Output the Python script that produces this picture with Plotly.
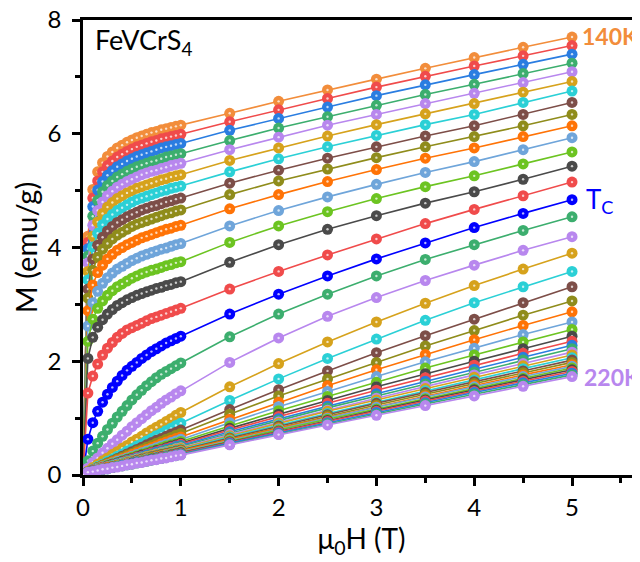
import plotly.graph_objects as go

# magnetic field (T)
field_T = [0, 0.05, 0.10, 0.15, 0.20, 0.25, 0.30, 0.35, 0.40, 0.45, 0.50,
           0.55, 0.60, 0.65, 0.70, 0.75, 0.80, 0.85, 0.90, 0.95, 1.00,
           1.5, 2.0, 2.5, 3.0, 3.5, 4.0, 4.5, 5.0]

temps_K = [140, 142, 144, 146, 148, 150, 152, 154, 156, 158, 160, 162, 164, 166,
           168, 170, 172, 174, 176, 178, 180, 182, 184, 186, 188, 190, 192, 194,
           196, 198, 200, 202, 204, 206, 208, 210, 212, 214, 216, 218, 220]
Tc_K = 168

# magnetization (emu/g) for each isotherm
M_140 = [0, 4.20, 5.02, 5.33, 5.49, 5.60, 5.68, 5.75, 5.80, 5.85, 5.89, 5.93, 5.96, 5.99, 6.02, 6.04, 6.07, 6.09, 6.11, 6.13, 6.15, 6.36, 6.57, 6.77, 6.96, 7.15, 7.34, 7.52, 7.70]
M_142 = [0, 4.09, 4.87, 5.17, 5.33, 5.44, 5.52, 5.59, 5.64, 5.69, 5.73, 5.77, 5.80, 5.83, 5.86, 5.88, 5.91, 5.93, 5.95, 5.97, 5.99, 6.21, 6.42, 6.62, 6.82, 7.01, 7.19, 7.37, 7.55]
M_144 = [0, 3.98, 4.72, 5.01, 5.16, 5.27, 5.35, 5.42, 5.47, 5.52, 5.56, 5.60, 5.63, 5.66, 5.69, 5.72, 5.75, 5.77, 5.79, 5.81, 5.83, 6.06, 6.27, 6.47, 6.67, 6.86, 7.04, 7.22, 7.40]
M_146 = [0, 3.85, 4.55, 4.83, 4.98, 5.09, 5.17, 5.24, 5.29, 5.34, 5.38, 5.42, 5.45, 5.48, 5.51, 5.53, 5.56, 5.59, 5.61, 5.63, 5.65, 5.88, 6.10, 6.30, 6.50, 6.69, 6.87, 7.06, 7.24]
M_148 = [0, 3.73, 4.39, 4.65, 4.80, 4.91, 4.99, 5.06, 5.11, 5.16, 5.20, 5.24, 5.28, 5.31, 5.34, 5.36, 5.39, 5.41, 5.44, 5.46, 5.48, 5.72, 5.94, 6.15, 6.34, 6.53, 6.71, 6.90, 7.09]
M_150 = [0, 3.58, 4.20, 4.45, 4.60, 4.71, 4.79, 4.86, 4.91, 4.96, 5.00, 5.04, 5.07, 5.10, 5.13, 5.16, 5.19, 5.21, 5.24, 5.26, 5.28, 5.53, 5.75, 5.96, 6.16, 6.35, 6.53, 6.73, 6.92]
M_152 = [0, 3.43, 4.01, 4.25, 4.40, 4.50, 4.58, 4.65, 4.70, 4.75, 4.80, 4.84, 4.87, 4.90, 4.93, 4.96, 4.99, 5.01, 5.04, 5.06, 5.08, 5.33, 5.56, 5.77, 5.97, 6.16, 6.34, 6.55, 6.75]
M_154 = [0, 3.27, 3.80, 4.04, 4.18, 4.29, 4.37, 4.44, 4.49, 4.54, 4.58, 4.62, 4.66, 4.69, 4.72, 4.74, 4.77, 4.80, 4.82, 4.85, 4.87, 5.13, 5.36, 5.57, 5.77, 5.96, 6.14, 6.34, 6.55]
M_156 = [0, 3.11, 3.60, 3.83, 3.97, 4.07, 4.15, 4.22, 4.27, 4.32, 4.37, 4.41, 4.44, 4.47, 4.50, 4.53, 4.56, 4.59, 4.61, 4.64, 4.66, 4.93, 5.17, 5.38, 5.58, 5.77, 5.95, 6.14, 6.34]
M_158 = [0, 2.89, 3.34, 3.56, 3.69, 3.80, 3.88, 3.95, 4.00, 4.05, 4.09, 4.13, 4.17, 4.20, 4.23, 4.26, 4.29, 4.32, 4.34, 4.37, 4.39, 4.68, 4.93, 5.16, 5.37, 5.57, 5.75, 5.95, 6.14]
M_160 = [0, 2.62, 3.03, 3.23, 3.37, 3.47, 3.55, 3.62, 3.67, 3.72, 3.77, 3.81, 3.85, 3.88, 3.91, 3.94, 3.97, 3.99, 4.02, 4.05, 4.07, 4.38, 4.65, 4.89, 5.11, 5.32, 5.51, 5.72, 5.93]
M_162 = [0, 2.35, 2.74, 2.93, 3.06, 3.16, 3.24, 3.31, 3.36, 3.41, 3.46, 3.50, 3.54, 3.57, 3.60, 3.62, 3.65, 3.68, 3.70, 3.73, 3.75, 4.09, 4.38, 4.63, 4.86, 5.07, 5.26, 5.47, 5.68]
M_164 = [0, 2.05, 2.42, 2.60, 2.73, 2.83, 2.91, 2.98, 3.03, 3.08, 3.12, 3.16, 3.19, 3.22, 3.25, 3.28, 3.30, 3.33, 3.35, 3.38, 3.40, 3.74, 4.05, 4.32, 4.56, 4.78, 4.98, 5.20, 5.43]
M_166 = [0, 1.44, 1.74, 1.95, 2.11, 2.23, 2.33, 2.42, 2.49, 2.55, 2.59, 2.63, 2.67, 2.71, 2.75, 2.78, 2.81, 2.84, 2.87, 2.90, 2.93, 3.27, 3.58, 3.87, 4.15, 4.42, 4.67, 4.91, 5.15]
M_168 = [0, 0.63, 0.92, 1.12, 1.28, 1.42, 1.54, 1.65, 1.75, 1.84, 1.91, 1.98, 2.05, 2.11, 2.17, 2.22, 2.27, 2.32, 2.36, 2.40, 2.44, 2.83, 3.18, 3.50, 3.80, 4.08, 4.35, 4.60, 4.84]
M_170 = [0, 0.25, 0.42, 0.56, 0.68, 0.80, 0.91, 1.02, 1.12, 1.22, 1.32, 1.41, 1.49, 1.57, 1.64, 1.71, 1.77, 1.82, 1.87, 1.92, 1.97, 2.43, 2.83, 3.18, 3.50, 3.79, 4.05, 4.30, 4.54]
M_172 = [0, 0.12, 0.22, 0.30, 0.39, 0.47, 0.55, 0.62, 0.70, 0.77, 0.85, 0.92, 0.99, 1.06, 1.13, 1.19, 1.26, 1.32, 1.37, 1.43, 1.48, 1.98, 2.41, 2.79, 3.12, 3.42, 3.69, 3.95, 4.19]
M_174 = [0, 0.07, 0.13, 0.19, 0.25, 0.30, 0.36, 0.41, 0.47, 0.52, 0.58, 0.63, 0.68, 0.74, 0.79, 0.84, 0.89, 0.94, 0.99, 1.05, 1.10, 1.55, 1.96, 2.34, 2.69, 3.02, 3.33, 3.62, 3.90]
M_176 = [0, 0.05, 0.10, 0.15, 0.19, 0.24, 0.28, 0.33, 0.37, 0.42, 0.46, 0.51, 0.55, 0.60, 0.64, 0.69, 0.73, 0.78, 0.82, 0.87, 0.91, 1.31, 1.69, 2.05, 2.39, 2.72, 3.03, 3.31, 3.58]
M_178 = [0, 0.05, 0.09, 0.13, 0.17, 0.21, 0.25, 0.29, 0.33, 0.37, 0.41, 0.45, 0.49, 0.53, 0.57, 0.61, 0.64, 0.68, 0.72, 0.75, 0.79, 1.15, 1.50, 1.83, 2.15, 2.45, 2.74, 3.03, 3.31]
M_180 = [0, 0.05, 0.09, 0.13, 0.17, 0.21, 0.24, 0.28, 0.31, 0.35, 0.38, 0.42, 0.45, 0.49, 0.52, 0.56, 0.59, 0.63, 0.66, 0.70, 0.73, 1.07, 1.39, 1.69, 1.98, 2.27, 2.54, 2.81, 3.06]
M_182 = [0, 0.05, 0.09, 0.12, 0.16, 0.19, 0.23, 0.26, 0.29, 0.32, 0.36, 0.39, 0.42, 0.45, 0.48, 0.51, 0.55, 0.58, 0.61, 0.64, 0.67, 0.98, 1.28, 1.57, 1.85, 2.12, 2.38, 2.63, 2.87]
M_184 = [0, 0.05, 0.08, 0.12, 0.15, 0.18, 0.21, 0.24, 0.27, 0.30, 0.33, 0.36, 0.39, 0.42, 0.45, 0.48, 0.51, 0.54, 0.57, 0.60, 0.63, 0.92, 1.20, 1.47, 1.73, 1.99, 2.23, 2.47, 2.69]
M_186 = [0, 0.05, 0.08, 0.11, 0.14, 0.17, 0.20, 0.22, 0.25, 0.28, 0.31, 0.34, 0.37, 0.39, 0.42, 0.45, 0.48, 0.51, 0.53, 0.56, 0.59, 0.86, 1.13, 1.38, 1.63, 1.88, 2.11, 2.34, 2.56]
M_188 = [0, 0.05, 0.08, 0.10, 0.13, 0.16, 0.19, 0.21, 0.24, 0.27, 0.29, 0.32, 0.35, 0.37, 0.40, 0.43, 0.45, 0.48, 0.51, 0.53, 0.56, 0.82, 1.07, 1.31, 1.55, 1.78, 2.00, 2.22, 2.44]
M_190 = [0, 0.05, 0.08, 0.10, 0.13, 0.15, 0.18, 0.20, 0.23, 0.26, 0.28, 0.31, 0.33, 0.36, 0.39, 0.41, 0.44, 0.46, 0.49, 0.51, 0.54, 0.79, 1.03, 1.26, 1.49, 1.71, 1.93, 2.14, 2.35]
M_192 = [0, 0.05, 0.07, 0.10, 0.12, 0.15, 0.17, 0.20, 0.22, 0.25, 0.27, 0.30, 0.32, 0.35, 0.37, 0.40, 0.42, 0.45, 0.47, 0.50, 0.52, 0.76, 0.99, 1.21, 1.43, 1.65, 1.86, 2.07, 2.28]
M_194 = [0, 0.05, 0.07, 0.10, 0.12, 0.14, 0.17, 0.19, 0.22, 0.24, 0.26, 0.29, 0.31, 0.33, 0.36, 0.38, 0.41, 0.43, 0.45, 0.48, 0.50, 0.73, 0.96, 1.18, 1.39, 1.60, 1.81, 2.02, 2.22]
M_196 = [0, 0.05, 0.07, 0.10, 0.12, 0.14, 0.16, 0.19, 0.21, 0.23, 0.25, 0.28, 0.30, 0.32, 0.34, 0.37, 0.39, 0.41, 0.43, 0.46, 0.48, 0.71, 0.93, 1.14, 1.35, 1.56, 1.76, 1.96, 2.16]
M_198 = [0, 0.05, 0.07, 0.09, 0.12, 0.14, 0.16, 0.18, 0.20, 0.23, 0.25, 0.27, 0.29, 0.32, 0.34, 0.36, 0.38, 0.40, 0.43, 0.45, 0.47, 0.69, 0.91, 1.12, 1.32, 1.52, 1.72, 1.92, 2.11]
M_200 = [0, 0.05, 0.07, 0.09, 0.11, 0.13, 0.16, 0.18, 0.20, 0.22, 0.24, 0.26, 0.28, 0.30, 0.32, 0.34, 0.37, 0.39, 0.41, 0.43, 0.45, 0.67, 0.88, 1.08, 1.28, 1.48, 1.67, 1.87, 2.06]
M_202 = [0, 0.05, 0.07, 0.09, 0.11, 0.13, 0.15, 0.17, 0.19, 0.21, 0.23, 0.26, 0.28, 0.30, 0.32, 0.34, 0.36, 0.38, 0.40, 0.42, 0.44, 0.65, 0.86, 1.06, 1.26, 1.45, 1.64, 1.83, 2.02]
M_204 = [0, 0.05, 0.07, 0.09, 0.11, 0.13, 0.15, 0.17, 0.19, 0.21, 0.23, 0.25, 0.27, 0.29, 0.31, 0.33, 0.35, 0.37, 0.39, 0.41, 0.43, 0.64, 0.84, 1.04, 1.23, 1.42, 1.61, 1.80, 1.98]
M_206 = [0, 0.05, 0.07, 0.09, 0.11, 0.13, 0.15, 0.17, 0.19, 0.21, 0.23, 0.24, 0.26, 0.28, 0.30, 0.32, 0.34, 0.36, 0.38, 0.40, 0.42, 0.62, 0.82, 1.01, 1.20, 1.39, 1.58, 1.76, 1.94]
M_208 = [0, 0.05, 0.07, 0.09, 0.11, 0.12, 0.14, 0.16, 0.18, 0.20, 0.22, 0.24, 0.26, 0.28, 0.29, 0.31, 0.33, 0.35, 0.37, 0.39, 0.41, 0.61, 0.81, 1.00, 1.19, 1.37, 1.55, 1.73, 1.91]
M_210 = [0, 0.05, 0.07, 0.08, 0.10, 0.12, 0.14, 0.16, 0.18, 0.19, 0.21, 0.23, 0.25, 0.27, 0.29, 0.30, 0.32, 0.34, 0.36, 0.38, 0.40, 0.60, 0.79, 0.98, 1.16, 1.34, 1.52, 1.70, 1.88]
M_212 = [0, 0.05, 0.07, 0.08, 0.10, 0.12, 0.14, 0.15, 0.17, 0.19, 0.21, 0.23, 0.24, 0.26, 0.28, 0.30, 0.32, 0.33, 0.35, 0.37, 0.39, 0.58, 0.77, 0.96, 1.14, 1.32, 1.50, 1.68, 1.85]
M_214 = [0, 0.05, 0.07, 0.08, 0.10, 0.12, 0.13, 0.15, 0.17, 0.19, 0.20, 0.22, 0.24, 0.26, 0.27, 0.29, 0.31, 0.33, 0.34, 0.36, 0.38, 0.57, 0.76, 0.94, 1.12, 1.30, 1.47, 1.65, 1.82]
M_216 = [0, 0.05, 0.07, 0.08, 0.10, 0.11, 0.13, 0.15, 0.17, 0.18, 0.20, 0.22, 0.23, 0.25, 0.27, 0.28, 0.30, 0.32, 0.33, 0.35, 0.37, 0.56, 0.74, 0.92, 1.10, 1.27, 1.45, 1.62, 1.79]
M_218 = [0, 0.05, 0.06, 0.08, 0.10, 0.11, 0.13, 0.15, 0.16, 0.18, 0.19, 0.21, 0.23, 0.24, 0.26, 0.28, 0.29, 0.31, 0.33, 0.34, 0.36, 0.54, 0.72, 0.90, 1.07, 1.25, 1.42, 1.59, 1.76]
M_220 = [0, 0.05, 0.06, 0.08, 0.10, 0.11, 0.13, 0.14, 0.16, 0.18, 0.19, 0.21, 0.22, 0.24, 0.26, 0.27, 0.29, 0.30, 0.32, 0.34, 0.35, 0.53, 0.71, 0.88, 1.05, 1.22, 1.39, 1.56, 1.73]

curves = [M_140, M_142, M_144, M_146, M_148, M_150, M_152, M_154, M_156, M_158,
          M_160, M_162, M_164, M_166, M_168, M_170, M_172, M_174, M_176, M_178,
          M_180, M_182, M_184, M_186, M_188, M_190, M_192, M_194, M_196, M_198,
          M_200, M_202, M_204, M_206, M_208, M_210, M_212, M_214, M_216, M_218,
          M_220]

# ---- styling ----
FIRST_COLOR = "#F28D3B"
CYCLE = ["#F04B4B", "#2A7DE1", "#3CAE6E", "#B887EE", "#D6A21C", "#2BD0D6",
         "#7D4E48", "#8F8C1B", "#FF7306", "#6FA5DA", "#6CC421", "#4A4A4A"]
TC_COLOR = "#0000FF"

FONT = "Lato, 'Open Sans', sans-serif"

fig = go.Figure()
for i, (T, M) in enumerate(zip(temps_K, curves)):
    if i == 0:
        c = FIRST_COLOR
    elif T == Tc_K:
        c = TC_COLOR
    else:
        c = CYCLE[(i - 1) % len(CYCLE)]
    fig.add_trace(go.Scatter(
        x=field_T, y=M, mode="lines+markers", name=f"{T} K",
        line=dict(color=c, width=1.6),
        marker=dict(color=c, size=11, line=dict(width=0)),
        showlegend=False))
    fig.add_trace(go.Scatter(
        x=field_T, y=M, mode="markers", hoverinfo="skip",
        marker=dict(color="rgba(255,255,255,0.72)", size=2.4, line=dict(width=0)),
        showlegend=False))

axis_common = dict(
    showline=True, linecolor="black", linewidth=2.5,
    ticks="outside", ticklen=8, tickwidth=2.5, tickcolor="black",
    showgrid=False, zeroline=False, automargin=False,
    ticklabeloverflow="allow",
    tickfont=dict(family=FONT, size=24, color="black"),
)

# the page body adds an 8 px offset, so the figure is 632 x 554
fig.update_layout(
    width=632, height=554,
    margin=dict(l=75, r=0, t=12, b=87),
    paper_bgcolor="white", plot_bgcolor="white",
    font=dict(family=FONT, color="black"),
    xaxis=dict(
        range=[0, 5.695], tickvals=[0, 1, 2, 3, 4, 5], mirror=True,
        ticklabelstandoff=1,
        minor=dict(tickvals=[0.5, 1.5, 2.5, 3.5, 4.5, 5.5], ticks="outside",
                   ticklen=5, tickwidth=2.5, tickcolor="black"),
        title=dict(text="μ<sub>0</sub>H (T)", font=dict(family=FONT, size=28),
                   standoff=10),
        **axis_common),
    yaxis=dict(
        range=[0, 8], tickvals=[0, 2, 4, 6, 8],
        ticklabelstandoff=6,
        minor=dict(tickvals=[1, 3, 5, 7], ticks="outside",
                   ticklen=5, tickwidth=2.5, tickcolor="black"),
        title=dict(text="M (emu/g)", font=dict(family=FONT, size=29),
                   standoff=8),
        **axis_common),
)

fig.add_annotation(xref="paper", yref="paper", x=0.018, y=0.952,
                   xanchor="left", yanchor="middle", showarrow=False,
                   text="FeVCrS<sub>4</sub>",
                   font=dict(family=FONT, size=27, color="black"))
fig.add_annotation(x=5.08, y=7.72, xanchor="left", yanchor="middle",
                   showarrow=False, text="<b>140K</b>",
                   font=dict(family=FONT, size=23, color=FIRST_COLOR))
fig.add_annotation(x=5.12, y=4.82, xanchor="left", yanchor="middle",
                   showarrow=False, text="T<sub>C</sub>",
                   font=dict(family=FONT, size=26, color=TC_COLOR))
fig.add_annotation(x=5.1, y=1.72, xanchor="left", yanchor="middle",
                   showarrow=False, text="<b>220K</b>",
                   font=dict(family=FONT, size=23, color="#B887EE"))

fig.write_html("out.html")
